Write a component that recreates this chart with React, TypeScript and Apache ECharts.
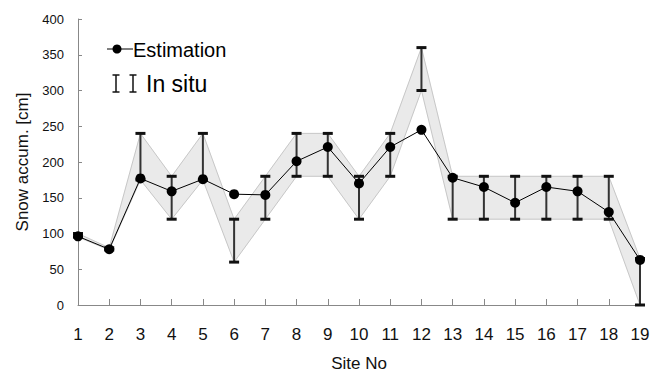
import React, { useEffect, useRef } from "react";
import * as echarts from "echarts";

const sites = [1, 2, 3, 4, 5, 6, 7, 8, 9, 10, 11, 12, 13, 14, 15, 16, 17, 18, 19];
const estimation = [96, 78, 177, 159, 176, 155, 154, 201, 221, 170, 221, 245, 178, 165, 143, 165, 159, 130, 63];
const inSituLow = [95, 77, 175, 120, 175, 60, 120, 180, 180, 120, 180, 300, 120, 120, 120, 120, 120, 120, 0];
const inSituHigh = [100, 80, 240, 180, 240, 120, 180, 240, 240, 180, 240, 360, 180, 180, 180, 180, 180, 180, 65];

const FONT = "'Liberation Sans', Arial, sans-serif";

export default function App() {
  const ref = useRef<HTMLDivElement>(null);
  useEffect(() => {
    if (!ref.current) return;
    const chart = echarts.init(ref.current, undefined, { renderer: "svg" });
    const bandData = sites.slice(0, -1).map((s, i) => [
      s, inSituLow[i], inSituHigh[i], sites[i + 1], inSituLow[i + 1], inSituHigh[i + 1],
    ]);
    const barData = sites.map((s, i) => [s, inSituLow[i], inSituHigh[i]]);
    const estData = sites.map((s, i) => [s, estimation[i]]);
    chart.setOption({
      animation: false,
      textStyle: { fontFamily: FONT },
      grid: { left: 78, right: 11, top: 19, bottom: 67, containLabel: false, outerBoundsMode: "none" },
      xAxis: {
        type: "value",
        min: 1,
        max: 19,
        interval: 1,
        name: "Site No",
        nameLocation: "middle",
        nameGap: 50,
        nameTextStyle: { fontSize: 17, lineHeight: 16, color: "#111", fontFamily: FONT },
        axisLine: { lineStyle: { color: "#888", width: 1 } },
        axisTick: { inside: true, length: 6, lineStyle: { color: "#888" } },
        axisLabel: { fontSize: 17, color: "#111", margin: 21, fontFamily: FONT },
        splitLine: { show: false },
      },
      yAxis: {
        type: "value",
        min: 0,
        max: 400,
        interval: 50,
        name: "Snow accum. [cm]",
        nameLocation: "middle",
        nameRotate: 90,
        nameGap: 41,
        nameTextStyle: { fontSize: 17, color: "#111", fontFamily: FONT },
        axisLine: { show: true, lineStyle: { color: "#888", width: 1 } },
        axisTick: { show: true, inside: true, length: 4, lineStyle: { color: "#888" } },
        axisLabel: { fontSize: 13, color: "#111", margin: 14, fontFamily: FONT },
        splitLine: { show: false },
      },
      series: [
        {
          type: "custom",
          data: bandData,
          z: 1,
          silent: true,
          renderItem: (params: any, api: any) => {
            const x0 = api.value(0);
            const x1 = api.value(3);
            const a = api.coord([x0, api.value(1)]);
            const b = api.coord([x0, api.value(2)]);
            const c = api.coord([x1, api.value(5)]);
            const d = api.coord([x1, api.value(4)]);
            return {
              type: "group",
              children: [
                {
                  type: "polygon",
                  shape: { points: [a, b, c, d] },
                  style: { fill: "#eaeaea", stroke: "#eaeaea", lineWidth: 0.5 },
                },
                {
                  type: "line",
                  shape: { x1: a[0], y1: a[1], x2: d[0], y2: d[1] },
                  style: { stroke: "#bdbdbd", lineWidth: 0.8 },
                },
                {
                  type: "line",
                  shape: { x1: b[0], y1: b[1], x2: c[0], y2: c[1] },
                  style: { stroke: "#bdbdbd", lineWidth: 0.8 },
                },
              ],
            };
          },
        },
        {
          type: "custom",
          data: barData,
          z: 3,
          renderItem: (params: any, api: any) => {
            const x = api.value(0);
            const lo = api.coord([x, api.value(1)]);
            const hi = api.coord([x, api.value(2)]);
            const hw = 5;
            return {
              type: "group",
              children: [
                {
                  type: "line",
                  shape: { x1: lo[0], y1: lo[1], x2: hi[0], y2: hi[1] },
                  style: { stroke: "#333", lineWidth: 2 },
                },
                {
                  type: "line",
                  shape: { x1: lo[0] - hw, y1: lo[1], x2: lo[0] + hw, y2: lo[1] },
                  style: { stroke: "#111", lineWidth: 3 },
                },
                {
                  type: "line",
                  shape: { x1: hi[0] - hw, y1: hi[1], x2: hi[0] + hw, y2: hi[1] },
                  style: { stroke: "#111", lineWidth: 3 },
                },
              ],
            };
          },
        },
        {
          type: "line",
          name: "Estimation",
          data: estData,
          symbol: "circle",
          symbolSize: 10,
          itemStyle: { color: "#000" },
          lineStyle: { color: "#000", width: 1 },
          z: 5,
        },
      ],
      graphic: [
        { type: "line", shape: { x1: 107, y1: 49, x2: 133, y2: 49 }, style: { stroke: "#000", lineWidth: 1 } },
        { type: "circle", shape: { cx: 117, cy: 49, r: 4.5 }, style: { fill: "#000" } },
        {
          type: "text",
          x: 133,
          y: 50,
          style: { text: "Estimation", font: `20px ${FONT}`, fill: "#000", verticalAlign: "middle", align: "left" },
        },
        { type: "line", shape: { x1: 116, y1: 75, x2: 116, y2: 92 }, style: { stroke: "#111", lineWidth: 1.5 } },
        { type: "line", shape: { x1: 112.5, y1: 75, x2: 119.5, y2: 75 }, style: { stroke: "#111", lineWidth: 1.5 } },
        { type: "line", shape: { x1: 112.5, y1: 92, x2: 119.5, y2: 92 }, style: { stroke: "#111", lineWidth: 1.5 } },
        { type: "line", shape: { x1: 133, y1: 75, x2: 133, y2: 92 }, style: { stroke: "#111", lineWidth: 1.5 } },
        { type: "line", shape: { x1: 129.5, y1: 75, x2: 136.5, y2: 75 }, style: { stroke: "#111", lineWidth: 1.5 } },
        { type: "line", shape: { x1: 129.5, y1: 92, x2: 136.5, y2: 92 }, style: { stroke: "#111", lineWidth: 1.5 } },
        {
          type: "text",
          x: 146,
          y: 84,
          style: { text: "In situ", font: `23px ${FONT}`, fill: "#000", verticalAlign: "middle", align: "left" },
        },
      ],
    });
    return () => chart.dispose();
  }, []);
  return <div ref={ref} style={{ width: 651, height: 372, position: "absolute", left: 0, top: 0, background: "#fff" }} />;
}
